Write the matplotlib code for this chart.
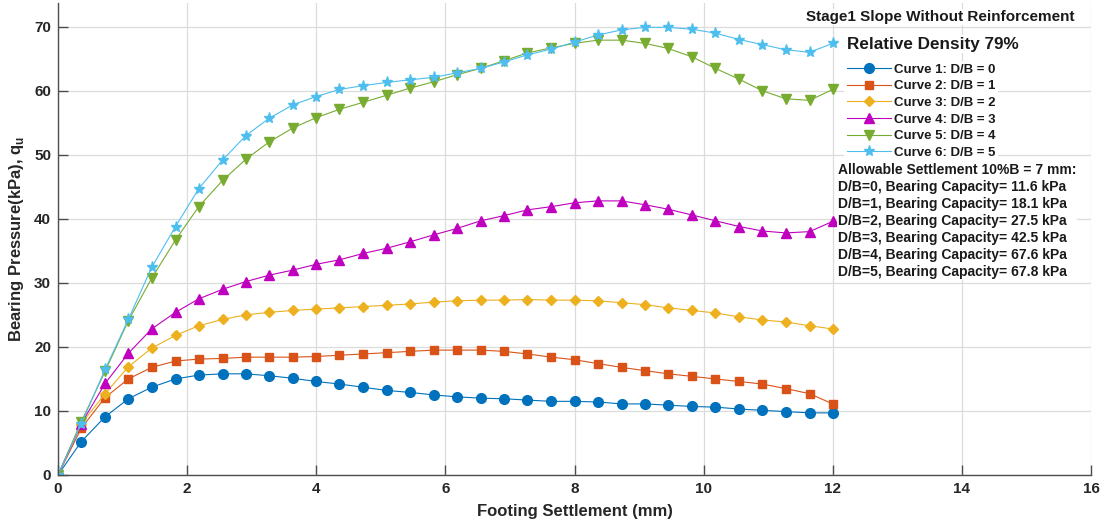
import matplotlib
matplotlib.use("Agg")
import matplotlib.pyplot as plt

# -----------------------------
# Data
# -----------------------------
settlement = [0, 0.36, 0.73, 1.09, 1.45, 1.82, 2.18, 2.55, 2.91, 3.27, 3.64, 4.00,
              4.36, 4.73, 5.09, 5.45, 5.82, 6.18, 6.55, 6.91, 7.27, 7.64, 8.00,
              8.36, 8.73, 9.09, 9.45, 9.82, 10.18, 10.55, 10.91, 11.27, 11.64, 12.00]

curve1 = [0, 5.2, 9.1, 11.9, 13.7, 15.0, 15.6, 15.8, 15.8, 15.5, 15.1, 14.6,
          14.2, 13.7, 13.2, 12.9, 12.5, 12.2, 12.0, 11.9, 11.7, 11.5, 11.5,
          11.4, 11.1, 11.1, 10.9, 10.7, 10.6, 10.3, 10.1, 9.9, 9.7, 9.7]
curve2 = [0, 7.3, 12.1, 15.0, 16.8, 17.8, 18.1, 18.2, 18.4, 18.4, 18.4, 18.5,
          18.7, 18.9, 19.1, 19.3, 19.5, 19.5, 19.5, 19.3, 18.9, 18.4, 18.0,
          17.4, 16.8, 16.3, 15.8, 15.4, 15.0, 14.6, 14.2, 13.5, 12.7, 11.1]
curve3 = [0, 8.0, 12.7, 16.9, 19.8, 21.8, 23.3, 24.3, 25.0, 25.4, 25.7, 25.9,
          26.1, 26.3, 26.5, 26.7, 27.0, 27.2, 27.3, 27.3, 27.4, 27.3, 27.3,
          27.2, 26.9, 26.6, 26.1, 25.7, 25.3, 24.7, 24.2, 23.9, 23.3, 22.8]
curve4 = [0, 8.0, 14.3, 19.0, 22.8, 25.4, 27.5, 29.0, 30.2, 31.2, 32.0, 32.9,
          33.6, 34.6, 35.4, 36.4, 37.5, 38.5, 39.7, 40.5, 41.4, 41.9, 42.5,
          42.8, 42.8, 42.2, 41.5, 40.6, 39.7, 38.8, 38.1, 37.8, 38.0, 39.6]
curve5 = [0, 8.3, 16.2, 24.1, 30.7, 36.7, 41.9, 46.0, 49.3, 52.0, 54.2, 55.8,
          57.1, 58.2, 59.3, 60.4, 61.4, 62.5, 63.5, 64.7, 65.9, 66.7, 67.4,
          67.9, 67.9, 67.4, 66.6, 65.3, 63.5, 61.8, 60.0, 58.75, 58.5, 60.2]
curve6 = [0, 8.0, 16.5, 24.3, 32.4, 38.8, 44.7, 49.2, 53.0, 55.7, 57.8, 59.1,
          60.2, 60.8, 61.3, 61.7, 62.1, 62.8, 63.5, 64.5, 65.6, 66.5, 67.6,
          68.7, 69.5, 69.9, 69.9, 69.6, 69.0, 68.0, 67.2, 66.4, 66.0, 67.4]

labels = ["Curve 1: D/B = 0", "Curve 2: D/B = 1", "Curve 3: D/B = 2",
          "Curve 4: D/B = 3", "Curve 5: D/B = 4", "Curve 6: D/B = 5"]
capacity = [11.6, 18.1, 27.5, 42.5, 67.6, 67.8]

colors = ["#0072BD", "#D95319", "#EDB120", "#BF00BF", "#77AC30", "#4DBEEE"]
markers = ["o", "s", "D", "^", "v", "*"]
msizes = [7, 6, 5.5, 7, 7, 8]

# -----------------------------
# Plot
# -----------------------------
plt.rcParams["font.family"] = ["Liberation Sans", "DejaVu Sans"]
plt.rcParams["font.weight"] = "bold"

fig = plt.figure(figsize=(11.05, 5.27), dpi=100)
ax = fig.add_axes([58 / 1105, 52 / 527, 1033 / 1105, 472 / 527])

curves = [curve1, curve2, curve3, curve4, curve5, curve6]
for y, c, m, ms, lab in zip(curves, colors, markers, msizes, labels):
    ax.plot(settlement, y, color=c, marker=m, markersize=ms, markerfacecolor=c,
            markeredgecolor=c, linewidth=0.8, label=lab)

ax.set_xlim(0, 16)
ax.set_ylim(0, 73.7)
ax.set_xticks(range(0, 17, 2))
ax.set_yticks(range(0, 71, 10))
ax.grid(True, color="#dcdcdc", linewidth=0.9)
ax.set_axisbelow(True)
for s in ["top", "right"]:
    ax.spines[s].set_visible(False)
for s in ["left", "bottom"]:
    ax.spines[s].set_color("#4d4d4d")
    ax.spines[s].set_linewidth(1.0)
ax.tick_params(direction="in", length=7, width=1, colors="#4d4d4d",
               labelcolor="#262626", labelsize=11, pad=5)

ax.set_xlabel("Footing Settlement (mm)", fontsize=12, fontweight="bold",
              color="#262626", labelpad=6)
ax.set_ylabel("Bearing Pressure(kPa), q$_\\mathregular{u}$", fontsize=12,
              fontweight="bold", color="#262626", labelpad=6)

# texts at top right
fig.text(940 / 1105, 1 - 17 / 527, "Stage1 Slope Without Reinforcement",
         ha="center", va="center", fontsize=11, fontweight="bold", color="#1a1a1a",
         bbox=dict(facecolor="white", edgecolor="none", pad=1))

leg = ax.legend(loc="upper left", bbox_to_anchor=(844 / 1105, 1 - 61 / 527),
                bbox_transform=fig.transFigure,
                prop={"size": 9.5, "weight": "bold"},
                frameon=True, facecolor="white", edgecolor="none", framealpha=1,
                handlelength=3.35, handletextpad=0.25, labelspacing=0.33,
                borderpad=0.2, borderaxespad=0, numpoints=1)
for t in leg.get_texts():
    t.set_color("#1a1a1a")

fig.text(933 / 1105, 1 - 44 / 527, "Relative Density 79%", ha="center",
         va="center", fontsize=12.3, fontweight="bold", color="#1a1a1a",
         bbox=dict(facecolor="white", edgecolor="none", pad=1))

note = "Allowable Settlement 10%B = 7 mm:\n" + "\n".join(
    f"D/B={i}, Bearing Capacity= {v} kPa" for i, v in enumerate(capacity))
fig.text(838 / 1105, 1 - 163 / 527, note, ha="left", va="top", fontsize=10,
         fontweight="bold", color="#1a1a1a", linespacing=1.27,
         bbox=dict(facecolor="white", edgecolor="none", pad=0.5))

fig.savefig("out.png", dpi=100)
